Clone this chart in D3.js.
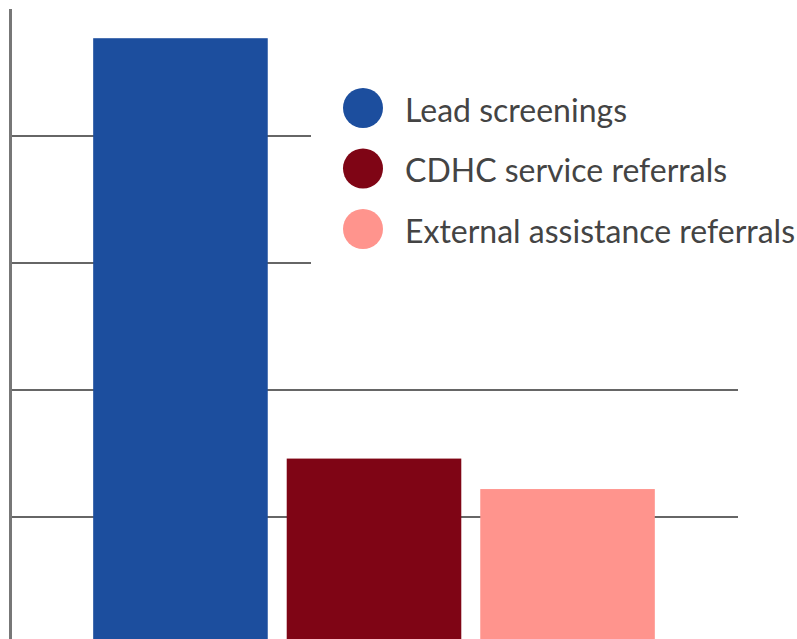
<!DOCTYPE html>
<html>
<head>
<meta charset="utf-8">
<script src="https://cdn.jsdelivr.net/npm/d3@7"></script>
<style>
  body { margin: 0; background: #fff; }
  svg { display: block; }
  .legend text { font-family: Lato, "Open Sans", sans-serif; fill: #444; }
</style>
</head>
<body>
<div id="chart"></div>
<script>
// data
const categories = ["Lead screenings", "CDHC service referrals", "External assistance referrals"];
const values = [477, 146, 122];
const colors = ["#1c4e9e", "#7f0515", "#ff948d"];
const tickValues = [100, 200, 300, 400, 500];

const width = 797;
const height = 639;

const svg = d3.select("#chart").append("svg")
  .attr("width", width)
  .attr("height", height);

// scales - baseline sits just below the visible area
const y = d3.scaleLinear().domain([0, 500]).range([644, 9]);
const x = d3.scaleBand()
  .domain(categories)
  .range([83.5, 664.5])
  .paddingInner(0.098)
  .paddingOuter(0.05);

// gridlines
svg.append("g")
  .selectAll("line")
  .data(tickValues.slice(0, 4))
  .enter()
  .append("line")
  .attr("x1", 10)
  .attr("x2", 738)
  .attr("y1", (d) => Math.round(y(d)))
  .attr("y2", (d) => Math.round(y(d)))
  .attr("stroke", "#666")
  .attr("stroke-width", 2);

// bars
svg.append("g")
  .selectAll("rect")
  .data(values)
  .enter()
  .append("rect")
  .attr("x", (d, i) => x(categories[i]))
  .attr("width", x.bandwidth())
  .attr("y", (d) => y(d))
  .attr("height", (d) => y(0) - y(d))
  .attr("fill", (d, i) => colors[i]);

// y axis line
svg.append("line")
  .attr("x1", 10.5)
  .attr("x2", 10.5)
  .attr("y1", y(500))
  .attr("y2", height)
  .attr("stroke", "#777")
  .attr("stroke-width", 3);

// legend, with a white box that hides the gridlines behind it
const legend = svg.append("g").attr("class", "legend");
legend.append("rect")
  .attr("x", 311)
  .attr("y", 70)
  .attr("width", width - 311)
  .attr("height", 205)
  .attr("fill", "#fff");

const item = legend.selectAll("g.item")
  .data(categories)
  .enter()
  .append("g")
  .attr("class", "item")
  .attr("transform", (d, i) => `translate(363,${108 + i * 60.5})`);

item.append("circle")
  .attr("r", 20)
  .attr("fill", (d, i) => colors[i]);

item.append("text")
  .attr("x", 42)
  .attr("y", 13.5)
  .style("font-size", "32px")
  .text((d) => d);
</script>
</body>
</html>
